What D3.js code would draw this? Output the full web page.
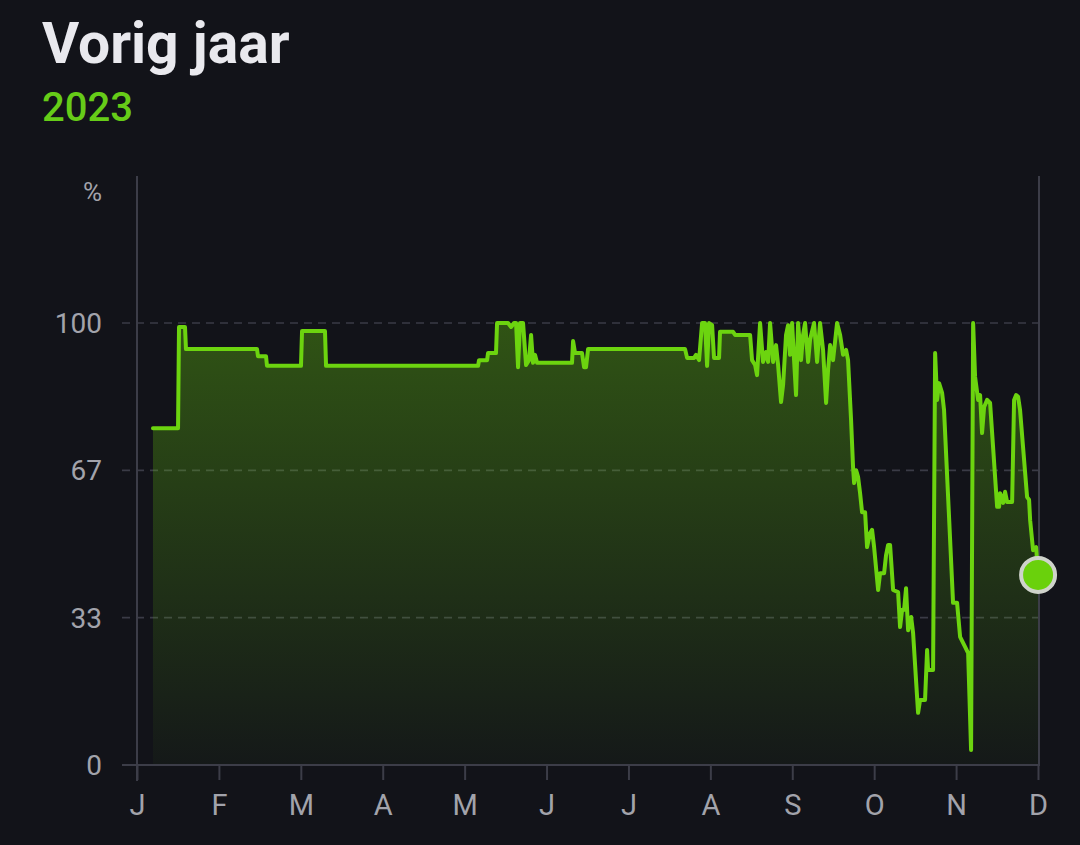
<!DOCTYPE html>
<html><head><meta charset="utf-8">
<script src="https://cdn.jsdelivr.net/npm/d3@7"></script>
<style>
html,body{margin:0;padding:0;background:#121319;}
svg{display:block;}
text{font-family:Roboto,"Noto Sans",sans-serif;}
</style></head>
<body>
<svg id="c" width="1080" height="845"></svg>
<script>
const title = "Vorig jaar";
const subtitle = "2023";
const monthLabels = ["J","F","M","A","M","J","J","A","S","O","N","D"];
const yTickValues = [0, 100/3, 200/3, 100];
const yTickLabels = ["0","33","67","100"];
const yUnit = "%";
// position in months since start of January (0 = J tick, 11 = D tick)
const monthPos = [0.195,0.501,0.513,0.586,0.598,1.465,1.477,1.575,1.587,2.002,2.015,2.295,2.308,4.164,4.176,4.274,4.286,4.383,4.396,4.530,4.567,4.603,4.628,4.652,4.676,4.713,4.750,4.786,4.811,4.835,4.859,4.884,5.311,5.324,5.348,5.433,5.458,5.482,5.507,6.691,6.716,6.801,6.825,6.862,6.899,6.935,6.960,6.984,7.021,7.045,7.106,7.118,7.277,7.302,7.485,7.509,7.546,7.570,7.607,7.643,7.680,7.705,7.729,7.766,7.802,7.827,7.863,7.888,7.924,7.949,7.973,7.998,8.022,8.046,8.071,8.107,8.132,8.156,8.193,8.217,8.266,8.303,8.339,8.376,8.413,8.437,8.462,8.498,8.547,8.584,8.620,8.657,8.681,8.718,8.742,8.755,8.779,8.803,8.828,8.852,8.889,8.913,8.950,8.974,8.999,9.048,9.072,9.121,9.145,9.170,9.194,9.231,9.292,9.316,9.341,9.365,9.389,9.414,9.451,9.475,9.536,9.560,9.621,9.646,9.658,9.719,9.744,9.768,9.792,9.829,9.853,9.963,10.012,10.049,10.110,10.147,10.183,10.208,10.232,10.269,10.293,10.317,10.342,10.379,10.415,10.501,10.525,10.537,10.574,10.598,10.623,10.684,10.708,10.733,10.757,10.781,10.867,10.891,10.904,10.940,10.977,11.001];
const percent = [76.2,76.2,99.1,99.1,94.1,94.1,92.5,92.5,90.3,90.3,98.2,98.2,90.3,90.3,91.6,91.6,93.2,93.2,100,100,99.1,100,100,90,100,100,90.5,91.6,97.3,91,92.8,91,91,95.9,93.2,93.2,90,90,94.1,94.1,92.1,92.1,92.8,91.6,100,100,90.3,100,99.5,92.1,92.1,98,98,97.3,97.3,91.6,90.5,88.2,100,91.2,93.4,91.2,100,91.2,95,90.5,82.1,86,97.3,99.5,92.8,100,91.6,83.7,100,91.6,97.3,100,91.2,96.2,100,91.2,100,93.9,81.9,89.4,95,91.6,100,97.3,92.8,93.9,91.6,78,67.4,63.8,66.7,65.2,61.5,57.2,57.2,49.3,52.5,53.2,49.3,39.6,43.4,43.4,47.5,49.8,49.8,39.6,39.1,31.2,35.1,35.1,40,30.5,33.5,29.9,11.8,14.7,14.7,26,21.5,21.5,93.2,82.6,86.4,84.2,80.3,36.7,36.7,29,26.7,25.3,3.4,100,87.8,82.6,83.7,75.1,81,82.6,81.9,58.4,58.4,61.5,59.3,61.8,59.5,59.5,82.6,83.7,83.3,80.3,60.6,60,55.4,48.6,49.3,43];

const svg = d3.select("#c");
const x = d3.scaleLinear().domain([0, 11]).range([137, 1038]);
const y = d3.scaleLinear().domain([0, 100]).range([765, 323]);
const data = monthPos.map((m, i) => ({m, v: percent[i]}));

const defs = svg.append("defs");
const grad = defs.append("linearGradient").attr("id","fillg")
  .attr("gradientUnits","userSpaceOnUse").attr("x1",0).attr("y1",y(100)).attr("x2",0).attr("y2",y(0));
grad.append("stop").attr("offset","0%").attr("stop-color","#6ad10c").attr("stop-opacity",0.34);
grad.append("stop").attr("offset","100%").attr("stop-color","#6ad10c").attr("stop-opacity",0.03);

// title
svg.append("text").attr("x",42).attr("y",63).attr("font-size",57).attr("font-weight",700)
  .attr("fill","#e9e9ee").text(title);
svg.append("text").attr("x",42).attr("y",121).attr("font-size",40).attr("font-weight",500)
  .attr("fill","#66cc18").text(subtitle);

// gridlines
svg.append("g").selectAll("line").data(yTickValues.filter(v => v > 0)).join("line")
  .attr("x1",122).attr("x2",1039).attr("y1",d=>y(d)).attr("y2",d=>y(d))
  .attr("stroke","#3a3b46").attr("stroke-width",1.6).attr("stroke-dasharray","8,6");

// y labels
svg.append("g").selectAll("text").data(yTickValues).join("text")
  .attr("x",102).attr("y",d=>y(d)+10).attr("text-anchor","end").attr("font-size",28)
  .attr("fill","#a2a3ab").text((d,i)=>yTickLabels[i]);
svg.append("text").attr("x",102).attr("y",201).attr("text-anchor","end").attr("font-size",26)
  .attr("fill","#a2a3ab").text(yUnit);

// area + line
const area = d3.area().x(d=>x(d.m)).y0(y(0)).y1(d=>y(d.v));
const line = d3.line().x(d=>x(d.m)).y(d=>y(d.v));
svg.append("path").datum(data).attr("d",area).attr("fill","url(#fillg)");

// axes
const xAxis = d3.axisBottom(x).tickValues(d3.range(12)).tickSize(15).tickPadding(14)
  .tickFormat(i => monthLabels[i]);
const gx = svg.append("g").attr("transform",`translate(0,${y(0)})`).call(xAxis);
gx.select(".domain").remove();
gx.selectAll(".tick line").attr("stroke","#3c3d48").attr("stroke-width",2);
gx.selectAll(".tick text").attr("font-size",29).attr("fill","#a2a3ab").attr("font-family","Roboto");
svg.append("line").attr("x1",122).attr("x2",1040).attr("y1",y(0)).attr("y2",y(0))
  .attr("stroke","#3c3d48").attr("stroke-width",2);
svg.append("line").attr("x1",x(0)).attr("x2",x(0)).attr("y1",176).attr("y2",781)
  .attr("stroke","#3c3d48").attr("stroke-width",2);
svg.append("line").attr("x1",1039).attr("x2",1039).attr("y1",176).attr("y2",y(0))
  .attr("stroke","#3c3d48").attr("stroke-width",2);

svg.append("path").datum(data).attr("d",line).attr("fill","none")
  .attr("stroke","#6cd40f").attr("stroke-width",4).attr("stroke-linejoin","round").attr("stroke-linecap","round");

// current marker
const last = data[data.length-1];
svg.append("circle").attr("cx",x(last.m)).attr("cy",y(last.v)).attr("r",17)
  .attr("fill","#6ad10c").attr("stroke","#cfd3cb").attr("stroke-width",4);
</script>
</body></html>
